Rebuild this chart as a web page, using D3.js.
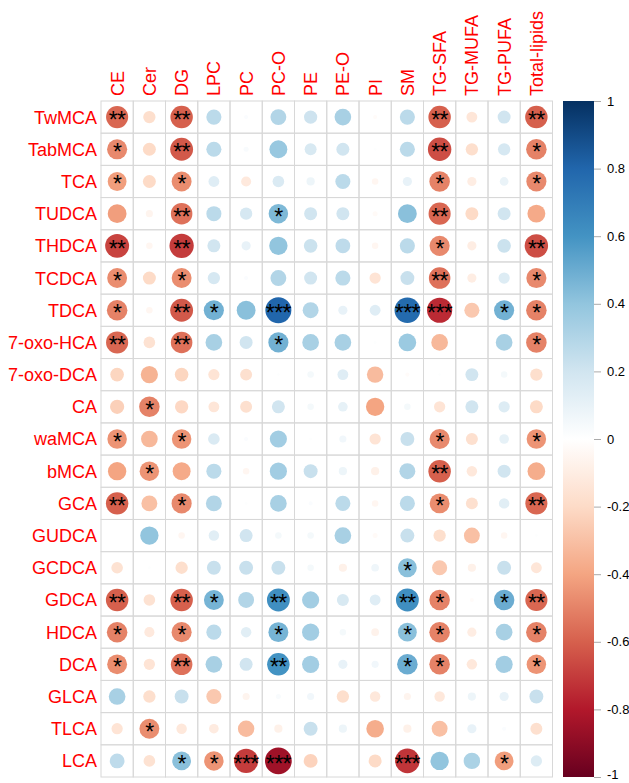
<!DOCTYPE html>
<html lang="en">
<head>
  <meta charset="UTF-8">
  <title>Bile acids vs lipid classes</title>
  <script src="https://d3js.org/d3.v7.min.js"></script>
  <style>
    body { margin: 0; background: #fff; }
    svg { display: block; }
    text { font-family: "Liberation Sans", Arial, sans-serif; }
  </style>
</head>
<body>
<svg id="chart" width="629" height="783"></svg>
<script>
const rowNames = ["TwMCA", "TabMCA", "TCA", "TUDCA", "THDCA", "TCDCA", "TDCA", "7-oxo-HCA",
  "7-oxo-DCA", "CA", "waMCA", "bMCA", "GCA", "GUDCA", "GCDCA", "GDCA", "HDCA", "DCA",
  "GLCA", "TLCA", "LCA"];

const colNames = ["CE", "Cer", "DG", "LPC", "PC", "PC-O", "PE", "PE-O", "PI", "SM",
  "TG-SFA", "TG-MUFA", "TG-PUFA", "Total-lipids"];

// correlation coefficients, one row per bile acid
const corrValues = [
  [-0.58, -0.18, -0.60, 0.27, 0.02, 0.30, 0.21, 0.33, -0.02, 0.27, -0.60, -0.14, 0.20, -0.60],
  [-0.48, -0.20, -0.62, 0.27, 0.03, 0.38, 0.17, 0.20, 0.01, 0.27, -0.65, -0.18, 0.18, -0.50],
  [-0.42, -0.20, -0.47, 0.14, -0.12, 0.16, 0.08, 0.27, -0.05, 0.10, -0.50, -0.10, 0.09, -0.48],
  [-0.42, -0.06, -0.55, 0.27, 0.18, 0.45, 0.20, 0.20, -0.03, 0.42, -0.58, -0.20, 0.20, -0.38],
  [-0.68, -0.05, -0.70, 0.20, 0.10, 0.40, 0.22, 0.26, -0.05, 0.27, -0.48, -0.10, 0.22, -0.65],
  [-0.47, -0.20, -0.47, 0.18, 0.02, 0.30, 0.20, 0.27, -0.15, 0.23, -0.55, -0.10, 0.15, -0.48],
  [-0.50, -0.05, -0.62, 0.48, 0.42, 0.80, 0.30, 0.10, 0.14, 0.78, -0.75, -0.27, 0.48, -0.50],
  [-0.58, -0.16, -0.55, 0.33, 0.20, 0.48, 0.33, 0.33, 0.01, 0.37, -0.33, 0.00, 0.33, -0.50],
  [-0.22, -0.35, -0.22, -0.15, -0.17, 0.01, 0.05, 0.14, -0.32, -0.02, 0.01, 0.20, 0.05, -0.18],
  [-0.24, -0.50, -0.21, -0.14, -0.17, 0.20, 0.05, 0.11, -0.40, 0.05, -0.15, 0.20, 0.15, -0.20],
  [-0.45, -0.33, -0.45, 0.16, 0.02, 0.35, 0.01, 0.06, -0.15, 0.23, -0.48, -0.17, 0.11, -0.45],
  [-0.40, -0.45, -0.38, 0.27, -0.05, 0.35, 0.23, 0.08, -0.08, 0.30, -0.60, -0.13, 0.20, -0.37],
  [-0.60, -0.30, -0.48, 0.30, 0.01, 0.33, 0.02, 0.27, -0.05, 0.27, -0.47, -0.17, 0.13, -0.58],
  [0.00, 0.40, -0.05, 0.13, 0.20, 0.05, 0.05, 0.33, -0.03, 0.23, -0.18, -0.30, -0.05, 0.01],
  [-0.16, 0.01, -0.18, 0.23, 0.23, 0.23, 0.05, -0.08, 0.07, 0.42, -0.27, -0.08, 0.23, -0.14],
  [-0.60, -0.16, -0.60, 0.47, 0.30, 0.62, 0.35, 0.17, 0.14, 0.62, -0.50, -0.02, 0.50, -0.58],
  [-0.50, -0.12, -0.48, 0.27, 0.13, 0.47, 0.35, 0.05, -0.07, 0.42, -0.50, -0.10, 0.33, -0.50],
  [-0.47, -0.15, -0.55, 0.33, 0.20, 0.60, 0.35, 0.10, 0.06, 0.50, -0.50, -0.13, 0.35, -0.45],
  [0.33, -0.18, 0.23, -0.27, -0.06, 0.03, 0.06, -0.18, -0.13, -0.06, -0.13, 0.08, 0.10, 0.23],
  [-0.15, -0.47, -0.13, -0.11, -0.32, -0.08, 0.23, 0.08, -0.37, -0.08, -0.30, 0.10, 0.02, -0.17],
  [0.26, -0.16, 0.42, -0.45, -0.70, -0.85, -0.23, 0.00, -0.20, -0.72, 0.40, 0.32, -0.42, 0.15]
];

// number of significance stars per cell
const starCounts = [
  [2, 0, 2, 0, 0, 0, 0, 0, 0, 0, 2, 0, 0, 2],
  [1, 0, 2, 0, 0, 0, 0, 0, 0, 0, 2, 0, 0, 1],
  [1, 0, 1, 0, 0, 0, 0, 0, 0, 0, 1, 0, 0, 1],
  [0, 0, 2, 0, 0, 1, 0, 0, 0, 0, 2, 0, 0, 0],
  [2, 0, 2, 0, 0, 0, 0, 0, 0, 0, 1, 0, 0, 2],
  [1, 0, 1, 0, 0, 0, 0, 0, 0, 0, 2, 0, 0, 1],
  [1, 0, 2, 1, 0, 3, 0, 0, 0, 3, 3, 0, 1, 1],
  [2, 0, 2, 0, 0, 1, 0, 0, 0, 0, 0, 0, 0, 1],
  [0, 0, 0, 0, 0, 0, 0, 0, 0, 0, 0, 0, 0, 0],
  [0, 1, 0, 0, 0, 0, 0, 0, 0, 0, 0, 0, 0, 0],
  [1, 0, 1, 0, 0, 0, 0, 0, 0, 0, 1, 0, 0, 1],
  [0, 1, 0, 0, 0, 0, 0, 0, 0, 0, 2, 0, 0, 0],
  [2, 0, 1, 0, 0, 0, 0, 0, 0, 0, 1, 0, 0, 2],
  [0, 0, 0, 0, 0, 0, 0, 0, 0, 0, 0, 0, 0, 0],
  [0, 0, 0, 0, 0, 0, 0, 0, 0, 1, 0, 0, 0, 0],
  [2, 0, 2, 1, 0, 2, 0, 0, 0, 2, 1, 0, 1, 2],
  [1, 0, 1, 0, 0, 1, 0, 0, 0, 1, 1, 0, 0, 1],
  [1, 0, 2, 0, 0, 2, 0, 0, 0, 1, 1, 0, 0, 1],
  [0, 0, 0, 0, 0, 0, 0, 0, 0, 0, 0, 0, 0, 0],
  [0, 1, 0, 0, 0, 0, 0, 0, 0, 0, 0, 0, 0, 0],
  [0, 0, 1, 1, 3, 3, 0, 0, 0, 3, 0, 0, 1, 0]
];

const legendTicks = [1, 0.8, 0.6, 0.4, 0.2, 0, -0.2, -0.4, -0.6, -0.8, -1];
const legendLabels = ["1", "0.8", "0.6", "0.4", "0.2", "0", "-0.2", "-0.4", "-0.6", "-0.8", "-1"];

// RdBu palette, from -1 to 1
const paletteStops = ["#67001F", "#B2182B", "#D6604D", "#F4A582", "#FDDBC7", "#FFFFFF",
  "#D1E5F0", "#92C5DE", "#4393C3", "#2166AC", "#053061"];

const svg = d3.select("#chart");

const gridLeft = 101, gridRight = 552.5, gridTop = 101, gridBottom = 777;

const x = d3.scaleBand().domain(colNames).range([gridLeft, gridRight]);
const y = d3.scaleBand().domain(rowNames).range([gridTop, gridBottom]);
const color = d3.scaleLinear()
  .domain(d3.range(paletteStops.length).map(i => -1 + i * 0.2))
  .range(paletteStops);

const cells = [];
rowNames.forEach((r, i) => {
  colNames.forEach((c, j) => {
    cells.push({ row: r, col: c, value: corrValues[i][j], stars: starCounts[i][j] });
  });
});

// grid
const grid = svg.append("g");
grid.selectAll("rect")
  .data(cells)
  .join("rect")
  .attr("x", d => x(d.col))
  .attr("y", d => y(d.row))
  .attr("width", x.bandwidth())
  .attr("height", y.bandwidth())
  .attr("fill", "none")
  .attr("stroke", "#d8d8d8")
  .attr("stroke-width", 1);

// circles: area proportional to |r|
svg.append("g").selectAll("circle")
  .data(cells.filter(d => d.value !== 0))
  .join("circle")
  .attr("cx", d => x(d.col) + x.bandwidth() / 2)
  .attr("cy", d => y(d.row) + y.bandwidth() / 2)
  .attr("r", d => 0.45 * Math.sqrt(Math.abs(d.value)) * x.bandwidth())
  .attr("fill", d => color(d.value));

// significance stars
svg.append("g").selectAll("text")
  .data(cells.filter(d => d.stars > 0))
  .join("text")
  .attr("x", d => x(d.col) + x.bandwidth() / 2)
  .attr("y", d => y(d.row) + y.bandwidth() / 2 + 11)
  .attr("text-anchor", "middle")
  .attr("font-size", "23px")
  .attr("letter-spacing", "-0.5px")
  .attr("fill", "#000")
  .text(d => "*".repeat(d.stars));

// row labels
svg.append("g").selectAll("text")
  .data(rowNames)
  .join("text")
  .attr("x", gridLeft - 4)
  .attr("y", d => y(d) + y.bandwidth() / 2)
  .attr("dy", "0.36em")
  .attr("text-anchor", "end")
  .attr("font-size", "18px")
  .attr("fill", "#FF0000")
  .text(d => d);

// column labels, rotated
svg.append("g").selectAll("text")
  .data(colNames)
  .join("text")
  .attr("transform", d => `translate(${x(d) + x.bandwidth() / 2},${gridTop - 5}) rotate(-90)`)
  .attr("dy", "0.36em")
  .attr("text-anchor", "start")
  .attr("font-size", "18px")
  .attr("fill", "#FF0000")
  .text(d => d);

// colour legend
const legendX = 563, legendW = 31;
const ly = d3.scaleLinear().domain([-1, 1]).range([gridBottom, gridTop]);

const defs = svg.append("defs");
const grad = defs.append("linearGradient")
  .attr("id", "legendGrad")
  .attr("x1", 0).attr("y1", 1).attr("x2", 0).attr("y2", 0);
grad.selectAll("stop")
  .data(paletteStops)
  .join("stop")
  .attr("offset", (d, i) => i / (paletteStops.length - 1))
  .attr("stop-color", d => d);

svg.append("rect")
  .attr("x", legendX)
  .attr("y", gridTop)
  .attr("width", legendW)
  .attr("height", gridBottom - gridTop)
  .attr("fill", "url(#legendGrad)");

const legendAxis = d3.axisRight(ly)
  .tickValues(legendTicks)
  .tickSize(7)
  .tickPadding(6)
  .tickFormat((d, i) => legendLabels[i]);

const axisG = svg.append("g")
  .attr("transform", `translate(${legendX + legendW},0)`)
  .call(legendAxis);
axisG.select(".domain").remove();
axisG.selectAll(".tick line").attr("stroke", "#aaa");
axisG.selectAll(".tick text")
  .attr("font-family", "'Liberation Sans', Arial, sans-serif")
  .attr("font-size", "13px")
  .attr("fill", "#000");
// keep the bottom label inside the picture
axisG.selectAll(".tick text").filter(d => d === -1).attr("dy", "0.1em");
</script>
</body>
</html>
